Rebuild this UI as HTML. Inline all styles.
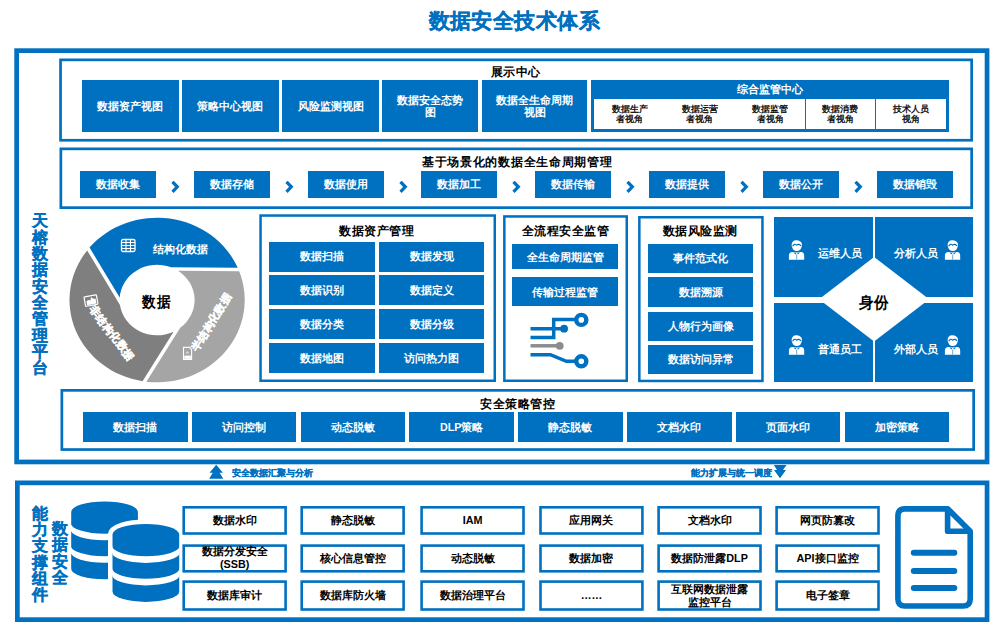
<!DOCTYPE html>
<html><head><meta charset="utf-8"><style>
html,body{margin:0;padding:0;background:#fff;}
body{width:1003px;height:634px;position:relative;overflow:hidden;font-family:"Liberation Sans",sans-serif;}
.a{position:absolute;box-sizing:content-box;}
.title{font-size:21px;letter-spacing:0.45px;font-weight:bold;color:#0070c0;line-height:26px;-webkit-text-stroke:0.3px #0070c0;white-space:nowrap}
.hc{text-align:center}
.h{font-size:12px;letter-spacing:0.5px;font-weight:bold;color:#000;line-height:16px;white-space:nowrap}
.btn{background:#0070c0;color:#fff;font-size:10.7px;font-weight:bold;display:flex;align-items:center;justify-content:center;text-align:center;line-height:12.5px;}
.wt{color:#fff;font-size:10.7px;font-weight:bold;line-height:14px;white-space:nowrap}
.rot{-webkit-text-stroke:0.35px #fff}
.sub{color:#000;font-size:8.8px;font-weight:normal;-webkit-text-stroke:0.3px #000;line-height:10.5px;display:flex;align-items:center;justify-content:center;text-align:center;}
.vt{color:#0070c0;font-size:16px;font-weight:bold;line-height:16.36px;-webkit-text-stroke:0.3px #0070c0;word-break:break-all;}
.st{color:#0070c0;font-size:9px;font-weight:bold;line-height:12px;-webkit-text-stroke:0.2px #0070c0;white-space:nowrap}
.wb{color:#000;font-size:10.8px;font-weight:bold;display:flex;align-items:center;justify-content:center;text-align:center;line-height:13px;}
</style></head><body>
<div class="a title" style="left:428.5px;top:8px">数据安全技术体系</div>
<svg class="a" style="left:0;top:0" width="1003" height="634"><rect x="16.65" y="50.65" width="970.40" height="411.30" fill="none" stroke="#0070c0" stroke-width="4.7"/></svg>
<svg class="a" style="left:0;top:0" width="1003" height="634"><rect x="60.55" y="59.85" width="911.10" height="80.40" fill="none" stroke="#0070c0" stroke-width="2.7"/></svg>
<div class="a h hc" style="left:365.9px;top:63.7px;width:300px">展示中心</div>
<div class="a btn" style="left:82.00px;top:80px;width:96.60px;height:52px">数据资产视图</div>
<div class="a btn" style="left:182.00px;top:80px;width:96.50px;height:52px">策略中心视图</div>
<div class="a btn" style="left:282.30px;top:80px;width:96.50px;height:52px">风险监测视图</div>
<div class="a btn" style="left:381.90px;top:80px;width:96.40px;height:52px">数据安全态势<br>图</div>
<div class="a btn" style="left:482.40px;top:80px;width:104.30px;height:52px">数据全生命周期<br>视图</div>
<div class="a" style="left:590.6px;top:79.6px;width:358.3px;height:52.4px;background:#0070c0"></div>
<div class="a" style="left:594.4px;top:99px;width:351.6px;height:30.4px;background:#fff"></div>
<div class="a wt" style="left:590.6px;top:82px;width:358px;text-align:center">综合监管中心</div>
<div class="a sub" style="left:594.40px;top:99px;width:70.3px;height:30.4px">数据生产<br>者视角</div>
<div class="a sub" style="left:664.70px;top:99px;width:70.3px;height:30.4px">数据运营<br>者视角</div>
<div class="a sub" style="left:735.00px;top:99px;width:70.3px;height:30.4px">数据监管<br>者视角</div>
<div class="a sub" style="left:805.30px;top:99px;width:70.3px;height:30.4px">数据消费<br>者视角</div>
<div class="a" style="left:804.55px;top:99px;width:1.5px;height:30.4px;background:#0070c0"></div>
<div class="a sub" style="left:875.60px;top:99px;width:70.3px;height:30.4px">技术人员<br>视角</div>
<div class="a" style="left:874.85px;top:99px;width:1.5px;height:30.4px;background:#0070c0"></div>
<svg class="a" style="left:0;top:0" width="1003" height="634"><rect x="60.85" y="148.85" width="910.80" height="58.80" fill="none" stroke="#0070c0" stroke-width="2.7"/></svg>
<div class="a h hc" style="left:367.2px;top:154.4px;width:300px;letter-spacing:0.7px">基于场景化的数据全生命周期管理</div>
<div class="a btn" style="left:80.00px;top:170.7px;width:76.00px;height:27.3px">数据收集</div>
<svg class="a" style="left:171.00px;top:180.5px" width="9" height="12"><path d="M1.5 0.8 L6.3 5.8 L1.5 10.8" stroke="#0070c0" stroke-width="3.2" fill="none"/></svg>
<div class="a btn" style="left:193.80px;top:170.7px;width:76.00px;height:27.3px">数据存储</div>
<svg class="a" style="left:284.80px;top:180.5px" width="9" height="12"><path d="M1.5 0.8 L6.3 5.8 L1.5 10.8" stroke="#0070c0" stroke-width="3.2" fill="none"/></svg>
<div class="a btn" style="left:307.60px;top:170.7px;width:76.00px;height:27.3px">数据使用</div>
<svg class="a" style="left:398.60px;top:180.5px" width="9" height="12"><path d="M1.5 0.8 L6.3 5.8 L1.5 10.8" stroke="#0070c0" stroke-width="3.2" fill="none"/></svg>
<div class="a btn" style="left:421.40px;top:170.7px;width:76.00px;height:27.3px">数据加工</div>
<svg class="a" style="left:512.40px;top:180.5px" width="9" height="12"><path d="M1.5 0.8 L6.3 5.8 L1.5 10.8" stroke="#0070c0" stroke-width="3.2" fill="none"/></svg>
<div class="a btn" style="left:535.20px;top:170.7px;width:76.00px;height:27.3px">数据传输</div>
<svg class="a" style="left:626.20px;top:180.5px" width="9" height="12"><path d="M1.5 0.8 L6.3 5.8 L1.5 10.8" stroke="#0070c0" stroke-width="3.2" fill="none"/></svg>
<div class="a btn" style="left:649.00px;top:170.7px;width:76.00px;height:27.3px">数据提供</div>
<svg class="a" style="left:740.00px;top:180.5px" width="9" height="12"><path d="M1.5 0.8 L6.3 5.8 L1.5 10.8" stroke="#0070c0" stroke-width="3.2" fill="none"/></svg>
<div class="a btn" style="left:762.80px;top:170.7px;width:76.00px;height:27.3px">数据公开</div>
<svg class="a" style="left:853.80px;top:180.5px" width="9" height="12"><path d="M1.5 0.8 L6.3 5.8 L1.5 10.8" stroke="#0070c0" stroke-width="3.2" fill="none"/></svg>
<div class="a btn" style="left:876.60px;top:170.7px;width:76.00px;height:27.3px">数据销毁</div>
<div class="a vt" style="left:31.5px;top:213.2px;width:17px">天榕数据安全管理平台</div>
<svg class="a" style="left:0;top:0" width="1003" height="634"><g transform="translate(0 300) scale(1 0.94)"><path d="M89.57 -55.80 A87.6 87.6 0 0 1 237.75 -34.20 L171.10 -34.79 A37.5 37.5 0 0 0 119.69 -2.54 Z" fill="#0070c0"/><path d="M239.19 -30.58 A87.6 87.6 0 0 1 146.39 86.94 L180.23 29.52 A37.5 37.5 0 0 0 178.01 -31.13 Z" fill="#a5a5a5"/><path d="M142.54 86.38 A87.6 87.6 0 0 1 87.16 -52.75 L119.97 5.27 A37.5 37.5 0 0 0 173.60 33.67 Z" fill="#7f7f7f"/></g></svg>
<svg class="a" style="left:120px;top:238px" width="17" height="15"><rect x="1.5" y="1.5" width="13.5" height="12" rx="1.5" fill="none" stroke="#fff" stroke-width="1.3"/><line x1="6" y1="1.5" x2="6" y2="13.5" stroke="#fff" stroke-width="1.1"/><line x1="10.5" y1="1.5" x2="10.5" y2="13.5" stroke="#fff" stroke-width="1.1"/><line x1="1.5" y1="4.5" x2="15" y2="4.5" stroke="#fff" stroke-width="1.1"/><line x1="1.5" y1="7.5" x2="15" y2="7.5" stroke="#fff" stroke-width="1.1"/><line x1="1.5" y1="10.5" x2="15" y2="10.5" stroke="#fff" stroke-width="1.1"/></svg>
<div class="a wt" style="left:153px;top:242px">结构化数据</div>
<div class="a wt rot" style="left:112.2px;top:333.3px;transform:translate(-50%,-50%) rotate(52deg)">非结构化数据</div>
<div class="a wt rot" style="left:211.2px;top:321.6px;transform:translate(-50%,-50%) rotate(-58deg)">半结构化数据</div>
<div class="a h" style="left:142px;top:293px;font-size:14px;transform:scaleY(1.1);transform-origin:0 0">数据</div>
<svg class="a" style="left:80px;top:288px" width="24" height="24"><g transform="rotate(-10 12 12)"><rect x="4.6" y="7.6" width="12.6" height="9.6" rx="0.8" fill="none" stroke="#fff" stroke-width="1.2"/><path d="M6.3 16.2 V12.6 Q8.5 10.8 10.5 12.2 Q11 9.5 12 9.2 Q13 11.5 15.8 11.3 V16.2 Z" fill="#fff"/></g></svg>
<svg class="a" style="left:178px;top:340px" width="20" height="24"><path d="M5.5 7.4 H11.4 L13.6 9.6 V19.4 H5.5 Z" fill="none" stroke="#fff" stroke-width="1.1"/><rect x="6.3" y="15.6" width="6.6" height="3.2" fill="#fff"/><path d="M7.5 13.5 L9.3 11 L11.3 13.5 Z" fill="#fff" opacity="0.6"/></svg>
<svg class="a" style="left:0;top:0" width="1003" height="634"><rect x="260.55" y="215.55" width="234.20" height="165.20" fill="none" stroke="#0070c0" stroke-width="2.5"/></svg>
<div class="a h hc" style="left:226.5px;top:223.3px;width:300px">数据资产管理</div>
<div class="a btn" style="left:269.00px;top:241.5px;width:105.60px;height:30.2px">数据扫描</div>
<div class="a btn" style="left:379.20px;top:241.5px;width:105.00px;height:30.2px">数据发现</div>
<div class="a btn" style="left:269.00px;top:275px;width:105.60px;height:30.2px">数据识别</div>
<div class="a btn" style="left:379.20px;top:275px;width:105.00px;height:30.2px">数据定义</div>
<div class="a btn" style="left:269.00px;top:309px;width:105.60px;height:30.2px">数据分类</div>
<div class="a btn" style="left:379.20px;top:309px;width:105.00px;height:30.2px">数据分级</div>
<div class="a btn" style="left:269.00px;top:343px;width:105.60px;height:30.2px">数据地图</div>
<div class="a btn" style="left:379.20px;top:343px;width:105.00px;height:30.2px">访问热力图</div>
<svg class="a" style="left:0;top:0" width="1003" height="634"><rect x="504.35" y="216.45" width="122.40" height="164.30" fill="none" stroke="#0070c0" stroke-width="2.5"/></svg>
<div class="a h hc" style="left:415.5px;top:223.3px;width:300px">全流程安全监管</div>
<div class="a btn" style="left:511.90px;top:244.4px;width:106.50px;height:24.8px">全生命周期监管</div>
<div class="a btn" style="left:511.90px;top:277.4px;width:106.50px;height:29.1px">传输过程监管</div>
<svg class="a" style="left:520px;top:305px" width="80" height="70"><g fill="none" stroke-width="3.5">
<path d="M10.5 23.7 H33.7 M33.7 23.7 H44" stroke="#0070c0"/>
<path d="M10.5 32.6 H33.7 V14.6 H55" stroke="#0070c0"/>
<path d="M10.5 40.8 H39.7" stroke="#8c8c8c"/>
<path d="M10.5 49.7 H30.4 L46.4 56.3 H55" stroke="#0070c0"/>
<circle cx="61.3" cy="14.9" r="5" stroke="#0070c0" stroke-width="4.4"/>
<circle cx="61.3" cy="56.3" r="5" stroke="#0070c0" stroke-width="4.4"/>
</g><circle cx="44.1" cy="23.7" r="3.9" fill="#0070c0"/><circle cx="39.7" cy="40.8" r="3.9" fill="#8c8c8c"/></svg>
<svg class="a" style="left:0;top:0" width="1003" height="634"><rect x="639.35" y="217.25" width="123.10" height="163.70" fill="none" stroke="#0070c0" stroke-width="2.5"/></svg>
<div class="a h hc" style="left:550.2px;top:223.3px;width:300px">数据风险监测</div>
<div class="a btn" style="left:648.40px;top:243.5px;width:105.10px;height:29.2px">事件范式化</div>
<div class="a btn" style="left:648.40px;top:277.4px;width:105.10px;height:29.2px">数据溯源</div>
<div class="a btn" style="left:648.40px;top:311.6px;width:105.10px;height:29.2px">人物行为画像</div>
<div class="a btn" style="left:648.40px;top:345.1px;width:105.10px;height:29.2px">数据访问异常</div>
<div class="a" style="left:774px;top:217px;width:98.6px;height:80px;background:#0070c0"></div>
<div class="a" style="left:874.6px;top:217px;width:98px;height:80px;background:#0070c0"></div>
<div class="a" style="left:774px;top:302.6px;width:98.6px;height:79.89999999999998px;background:#0070c0"></div>
<div class="a" style="left:874.6px;top:302.6px;width:98px;height:79.89999999999998px;background:#0070c0"></div>
<svg class="a" style="left:0;top:0" width="1003" height="634"><polygon points="874.1,257.1 929.2,299.3 874.1,341.5 819,299.3" fill="#fff"/></svg>
<div class="a h" style="left:859px;top:294px;font-size:14.2px;transform:scaleY(1.1);transform-origin:0 0">身份</div>
<svg class="a" style="left:784px;top:236px" width="26" height="28"><circle cx="12.8" cy="10.3" r="4.8" fill="#fff"/><path d="M7.6 9.5 Q7.5 5 11.5 4.3 Q16.5 3.8 18 8 Q18.3 10 17.2 10.5 Q15 7.5 13.5 8.5 Q12 9.8 10.5 8.3 Q9 9.5 8 11 Z" fill="#fff"/><path d="M8.6 10.3 Q10.5 7 12.6 9.2 Q14.8 7.2 17.2 10" fill="none" stroke="#0070c0" stroke-width="1.1"/><path d="M4.9 23.8 V19.5 Q5 16.5 8.5 16.1 L12.8 16.6 L17.1 16.1 Q20.1 16.5 20.2 19.5 V23.8 Z" fill="#fff"/><path d="M9.5 16.6 L11.5 18.4 L12.3 16.9 Z M16 16.6 L14 18.4 L13.3 16.9 Z" fill="#0070c0"/><rect x="12.5" y="18.5" width="0.6" height="5" fill="#0070c0"/></svg>
<svg class="a" style="left:939.7px;top:236px" width="26" height="28"><circle cx="12.8" cy="10.3" r="4.8" fill="#fff"/><path d="M7.6 9.5 Q7.5 5 11.5 4.3 Q16.5 3.8 18 8 Q18.3 10 17.2 10.5 Q15 7.5 13.5 8.5 Q12 9.8 10.5 8.3 Q9 9.5 8 11 Z" fill="#fff"/><path d="M8.6 10.3 Q10.5 7 12.6 9.2 Q14.8 7.2 17.2 10" fill="none" stroke="#0070c0" stroke-width="1.1"/><path d="M4.9 23.8 V19.5 Q5 16.5 8.5 16.1 L12.8 16.6 L17.1 16.1 Q20.1 16.5 20.2 19.5 V23.8 Z" fill="#fff"/><path d="M9.5 16.6 L11.5 18.4 L12.3 16.9 Z M16 16.6 L14 18.4 L13.3 16.9 Z" fill="#0070c0"/><rect x="12.5" y="18.5" width="0.6" height="5" fill="#0070c0"/></svg>
<svg class="a" style="left:784px;top:330.5px" width="26" height="28"><circle cx="12.8" cy="10.3" r="4.8" fill="#fff"/><path d="M7.6 9.5 Q7.5 5 11.5 4.3 Q16.5 3.8 18 8 Q18.3 10 17.2 10.5 Q15 7.5 13.5 8.5 Q12 9.8 10.5 8.3 Q9 9.5 8 11 Z" fill="#fff"/><path d="M8.6 10.3 Q10.5 7 12.6 9.2 Q14.8 7.2 17.2 10" fill="none" stroke="#0070c0" stroke-width="1.1"/><path d="M4.9 23.8 V19.5 Q5 16.5 8.5 16.1 L12.8 16.6 L17.1 16.1 Q20.1 16.5 20.2 19.5 V23.8 Z" fill="#fff"/><path d="M9.5 16.6 L11.5 18.4 L12.3 16.9 Z M16 16.6 L14 18.4 L13.3 16.9 Z" fill="#0070c0"/><rect x="12.5" y="18.5" width="0.6" height="5" fill="#0070c0"/></svg>
<svg class="a" style="left:939.7px;top:330.5px" width="26" height="28"><circle cx="12.8" cy="10.3" r="4.8" fill="#fff"/><path d="M7.6 9.5 Q7.5 5 11.5 4.3 Q16.5 3.8 18 8 Q18.3 10 17.2 10.5 Q15 7.5 13.5 8.5 Q12 9.8 10.5 8.3 Q9 9.5 8 11 Z" fill="#fff"/><path d="M8.6 10.3 Q10.5 7 12.6 9.2 Q14.8 7.2 17.2 10" fill="none" stroke="#0070c0" stroke-width="1.1"/><path d="M4.9 23.8 V19.5 Q5 16.5 8.5 16.1 L12.8 16.6 L17.1 16.1 Q20.1 16.5 20.2 19.5 V23.8 Z" fill="#fff"/><path d="M9.5 16.6 L11.5 18.4 L12.3 16.9 Z M16 16.6 L14 18.4 L13.3 16.9 Z" fill="#0070c0"/><rect x="12.5" y="18.5" width="0.6" height="5" fill="#0070c0"/></svg>
<div class="a wt" style="left:818px;top:246px">运维人员</div>
<div class="a wt" style="left:894px;top:246px">分析人员</div>
<div class="a wt" style="left:818px;top:342px">普通员工</div>
<div class="a wt" style="left:894px;top:342px">外部人员</div>
<svg class="a" style="left:0;top:0" width="1003" height="634"><rect x="61.85" y="390.35" width="911.80" height="59.20" fill="none" stroke="#0070c0" stroke-width="2.7"/></svg>
<div class="a h hc" style="left:367.85px;top:396px;width:300px">安全策略管控</div>
<div class="a btn" style="left:83.00px;top:412px;width:104.50px;height:29.9px">数据扫描</div>
<div class="a btn" style="left:191.80px;top:412px;width:104.50px;height:29.9px">访问控制</div>
<div class="a btn" style="left:300.60px;top:412px;width:104.50px;height:29.9px">动态脱敏</div>
<div class="a btn" style="left:409.40px;top:412px;width:104.50px;height:29.9px">DLP策略</div>
<div class="a btn" style="left:518.20px;top:412px;width:104.50px;height:29.9px">静态脱敏</div>
<div class="a btn" style="left:627.00px;top:412px;width:104.50px;height:29.9px">文档水印</div>
<div class="a btn" style="left:735.80px;top:412px;width:104.50px;height:29.9px">页面水印</div>
<div class="a btn" style="left:844.60px;top:412px;width:104.50px;height:29.9px">加密策略</div>
<svg class="a" style="left:0;top:0" width="1003" height="634"><polygon points="216.2,464.7 222.9,472.8 219.6,472.8 223.3,478.7 209.1,478.7 212.8,472.8 209.5,472.8" fill="#0070c0"/><polygon points="773.9,464.9 786.5,464.9 783,470 786,470 780,478.3 774,470 777,470" fill="#0070c0"/></svg>
<div class="a st" style="left:232.4px;top:466.5px">安全数据汇聚与分析</div>
<div class="a st" style="left:691.4px;top:466.5px">能力扩展与统一调度</div>
<svg class="a" style="left:0;top:0" width="1003" height="634"><rect x="17.35" y="482.85" width="969.70" height="136.80" fill="none" stroke="#0070c0" stroke-width="4.7"/></svg>
<div class="a vt" style="left:31.5px;top:505.5px;width:17px">能力支撑组件</div>
<div class="a vt" style="left:52px;top:521px;width:17px">数据安全</div>
<svg class="a" style="left:0;top:0" width="1003" height="634"><path d="M71.2 511.9 A33.34999999999999 10.5 0 0 1 137.89999999999998 511.9 V568.8 A33.34999999999999 10.5 0 0 1 71.2 568.8 Z" fill="#0070c0"/><path d="M70.70 523.20 A33.85 10.5 0 0 0 138.40 523.20 L138.40 529.80 A33.85 10.5 0 0 1 70.70 529.80 Z" fill="#fff"/><path d="M70.70 545.70 A33.85 10.5 0 0 0 138.40 545.70 L138.40 552.30 A33.85 10.5 0 0 1 70.70 552.30 Z" fill="#fff"/><path d="M112.5 534.5 A33.349999999999994 10.5 0 0 1 179.2 534.5 V591.4 A33.349999999999994 10.5 0 0 1 112.5 591.4 Z" fill="#fff" stroke="#fff" stroke-width="9"/><path d="M112.5 534.5 A33.349999999999994 10.5 0 0 1 179.2 534.5 V591.4 A33.349999999999994 10.5 0 0 1 112.5 591.4 Z" fill="#0070c0"/><path d="M112.00 545.80 A33.85 10.5 0 0 0 179.70 545.80 L179.70 552.40 A33.85 10.5 0 0 1 112.00 552.40 Z" fill="#fff"/><path d="M112.00 568.30 A33.85 10.5 0 0 0 179.70 568.30 L179.70 574.90 A33.85 10.5 0 0 1 112.00 574.90 Z" fill="#fff"/></svg>
<svg class="a" style="left:0;top:0" width="1003" height="634"><g fill="none" stroke="#0070c0" stroke-width="5.6" stroke-linejoin="round">
<path d="M905 508.9 H947.9 L970.2 531.2 V599 Q970.2 606 963.2 606 H904.9 Q897.9 606 897.9 599 V515.9 Q897.9 508.9 904.9 508.9 Z"/>
<path d="M947.6 509 V531.3 H970"/></g>
<g stroke="#0070c0" stroke-width="6" stroke-linecap="round"><line x1="913.8" y1="552.8" x2="954.3" y2="552.8"/><line x1="913.8" y1="571" x2="954.3" y2="571"/><line x1="913.8" y1="588" x2="954.3" y2="588"/></g></svg>
<svg class="a" style="left:0;top:0" width="1003" height="634"><rect x="183.70" y="507.30" width="101.90" height="26.20" fill="none" stroke="#0070c0" stroke-width="2.6"/></svg>
<div class="a wb" style="left:182.4px;top:506px;width:104.5px;height:28.8px">数据水印</div>
<svg class="a" style="left:0;top:0" width="1003" height="634"><rect x="301.70" y="507.30" width="101.90" height="26.20" fill="none" stroke="#0070c0" stroke-width="2.6"/></svg>
<div class="a wb" style="left:300.4px;top:506px;width:104.5px;height:28.8px">静态脱敏</div>
<svg class="a" style="left:0;top:0" width="1003" height="634"><rect x="421.60" y="507.30" width="101.90" height="26.20" fill="none" stroke="#0070c0" stroke-width="2.6"/></svg>
<div class="a wb" style="left:420.3px;top:506px;width:104.5px;height:28.8px">IAM</div>
<svg class="a" style="left:0;top:0" width="1003" height="634"><rect x="540.50" y="507.30" width="101.90" height="26.20" fill="none" stroke="#0070c0" stroke-width="2.6"/></svg>
<div class="a wb" style="left:539.2px;top:506px;width:104.5px;height:28.8px">应用网关</div>
<svg class="a" style="left:0;top:0" width="1003" height="634"><rect x="658.60" y="507.30" width="101.90" height="26.20" fill="none" stroke="#0070c0" stroke-width="2.6"/></svg>
<div class="a wb" style="left:657.3px;top:506px;width:104.5px;height:28.8px">文档水印</div>
<svg class="a" style="left:0;top:0" width="1003" height="634"><rect x="776.60" y="507.30" width="101.90" height="26.20" fill="none" stroke="#0070c0" stroke-width="2.6"/></svg>
<div class="a wb" style="left:775.3px;top:506px;width:104.5px;height:28.8px">网页防篡改</div>
<svg class="a" style="left:0;top:0" width="1003" height="634"><rect x="183.70" y="545.60" width="101.90" height="25.70" fill="none" stroke="#0070c0" stroke-width="2.6"/></svg>
<div class="a wb" style="left:182.4px;top:544.3px;width:104.5px;height:28.3px">数据分发安全<br>(SSB)</div>
<svg class="a" style="left:0;top:0" width="1003" height="634"><rect x="301.70" y="545.60" width="101.90" height="25.70" fill="none" stroke="#0070c0" stroke-width="2.6"/></svg>
<div class="a wb" style="left:300.4px;top:544.3px;width:104.5px;height:28.3px">核心信息管控</div>
<svg class="a" style="left:0;top:0" width="1003" height="634"><rect x="421.60" y="545.60" width="101.90" height="25.70" fill="none" stroke="#0070c0" stroke-width="2.6"/></svg>
<div class="a wb" style="left:420.3px;top:544.3px;width:104.5px;height:28.3px">动态脱敏</div>
<svg class="a" style="left:0;top:0" width="1003" height="634"><rect x="540.50" y="545.60" width="101.90" height="25.70" fill="none" stroke="#0070c0" stroke-width="2.6"/></svg>
<div class="a wb" style="left:539.2px;top:544.3px;width:104.5px;height:28.3px">数据加密</div>
<svg class="a" style="left:0;top:0" width="1003" height="634"><rect x="658.60" y="545.60" width="101.90" height="25.70" fill="none" stroke="#0070c0" stroke-width="2.6"/></svg>
<div class="a wb" style="left:657.3px;top:544.3px;width:104.5px;height:28.3px">数据防泄露DLP</div>
<svg class="a" style="left:0;top:0" width="1003" height="634"><rect x="776.60" y="545.60" width="101.90" height="25.70" fill="none" stroke="#0070c0" stroke-width="2.6"/></svg>
<div class="a wb" style="left:775.3px;top:544.3px;width:104.5px;height:28.3px">API接口监控</div>
<svg class="a" style="left:0;top:0" width="1003" height="634"><rect x="183.70" y="581.60" width="101.90" height="27.90" fill="none" stroke="#0070c0" stroke-width="2.6"/></svg>
<div class="a wb" style="left:182.4px;top:580.3px;width:104.5px;height:30.5px">数据库审计</div>
<svg class="a" style="left:0;top:0" width="1003" height="634"><rect x="301.70" y="581.60" width="101.90" height="27.90" fill="none" stroke="#0070c0" stroke-width="2.6"/></svg>
<div class="a wb" style="left:300.4px;top:580.3px;width:104.5px;height:30.5px">数据库防火墙</div>
<svg class="a" style="left:0;top:0" width="1003" height="634"><rect x="421.60" y="581.60" width="101.90" height="27.90" fill="none" stroke="#0070c0" stroke-width="2.6"/></svg>
<div class="a wb" style="left:420.3px;top:580.3px;width:104.5px;height:30.5px">数据治理平台</div>
<svg class="a" style="left:0;top:0" width="1003" height="634"><rect x="540.50" y="581.60" width="101.90" height="27.90" fill="none" stroke="#0070c0" stroke-width="2.6"/></svg>
<div class="a wb" style="left:539.2px;top:580.3px;width:104.5px;height:30.5px">……</div>
<svg class="a" style="left:0;top:0" width="1003" height="634"><rect x="658.60" y="581.60" width="101.90" height="27.90" fill="none" stroke="#0070c0" stroke-width="2.6"/></svg>
<div class="a wb" style="left:657.3px;top:580.3px;width:104.5px;height:30.5px">互联网数据泄露<br>监控平台</div>
<svg class="a" style="left:0;top:0" width="1003" height="634"><rect x="776.60" y="581.60" width="101.90" height="27.90" fill="none" stroke="#0070c0" stroke-width="2.6"/></svg>
<div class="a wb" style="left:775.3px;top:580.3px;width:104.5px;height:30.5px">电子签章</div>
</body></html>
